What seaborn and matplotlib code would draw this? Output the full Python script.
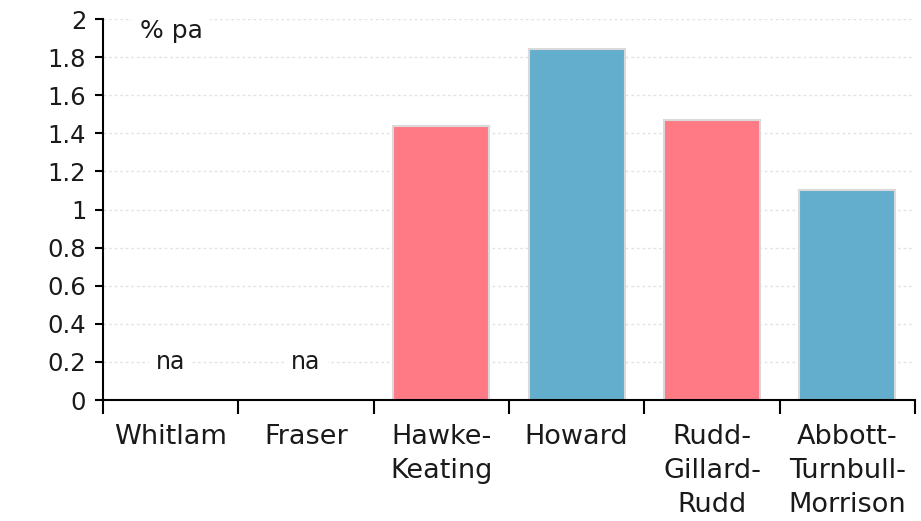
import numpy as np
import pandas as pd
import matplotlib
matplotlib.use("Agg")
import matplotlib.pyplot as plt
import seaborn as sns

# Real GDP per capita growth by government, % per annum
governments = ["Whitlam", "Fraser", "Hawke-\nKeating", "Howard",
               "Rudd-\nGillard-\nRudd", "Abbott-\nTurnbull-\nMorrison"]
growth = [np.nan, np.nan, 1.44, 1.84, 1.47, 1.10]
party_colours = ["#FF7A85", "#62AECC", "#FF7A85", "#62AECC", "#FF7A85", "#62AECC"]
y_ticks = [0, 0.2, 0.4, 0.6, 0.8, 1, 1.2, 1.4, 1.6, 1.8, 2]
y_tick_labels = ["0", "0.2", "0.4", "0.6", "0.8", "1", "1.2", "1.4", "1.6", "1.8", "2"]
na_label = "na"
unit_label = "% pa"

df = pd.DataFrame({"government": governments, "growth": growth})

sns.set_theme(style="white")
plt.rcParams["font.family"] = ["DejaVu Sans"]

fig = plt.figure(figsize=(9.21, 5.21), dpi=100)
ax = fig.add_axes([0.1118, 0.2322, 0.8817, 0.7313])

sns.barplot(data=df, x="government", y="growth", hue="government",
            palette=party_colours, saturation=1, legend=False, width=0.71,
            edgecolor="#d9d9d9", linewidth=1.5, ax=ax)

# No data for the first two governments
for i, v in enumerate(growth):
    if np.isnan(v):
        ax.text(i, 0.2, na_label, ha="center", va="center", fontsize=17,
                color="#1a1a1a", zorder=4,
                bbox=dict(boxstyle="square,pad=0.3", fc="white", ec="none"))

ax.text(0.045, 0.968, unit_label, transform=ax.transAxes, ha="left",
        va="center", fontsize=18, color="#1a1a1a", zorder=4,
        bbox=dict(boxstyle="square,pad=0.3", fc="white", ec="none"))

ax.set_ylim(0, 2)
ax.set_xlim(-0.5, len(governments) - 0.5)
ax.set_yticks(y_ticks)
ax.set_yticklabels(y_tick_labels, fontsize=17.5, color="#1a1a1a")
ax.yaxis.grid(True, color="#e3e3e3", linestyle=(0, (2, 2)), linewidth=1)
ax.set_axisbelow(True)

# Category labels centred on bars, tick marks between categories
ax.set_xticks(range(len(governments)))
ax.set_xticklabels(governments, fontsize=19.5, color="#1a1a1a", linespacing=1.4)
ax.tick_params(axis="x", which="major", length=0, pad=17)
ax.set_xticks(np.arange(-0.5, len(governments), 1), minor=True)
ax.tick_params(axis="x", which="minor", length=10, width=1.5, color="black",
               direction="out", bottom=True)
ax.tick_params(axis="y", length=6, width=1.5, color="black", direction="out",
               left=True, pad=6)
for lbl in ax.get_xticklabels():
    lbl.set_verticalalignment("top")

ax.set_xlabel("")
ax.set_ylabel("")
for side in ["top", "right"]:
    ax.spines[side].set_visible(False)
for side in ["left", "bottom"]:
    ax.spines[side].set_color("black")
    ax.spines[side].set_linewidth(1.5)

fig.savefig("out.png", dpi=100, facecolor="white")
